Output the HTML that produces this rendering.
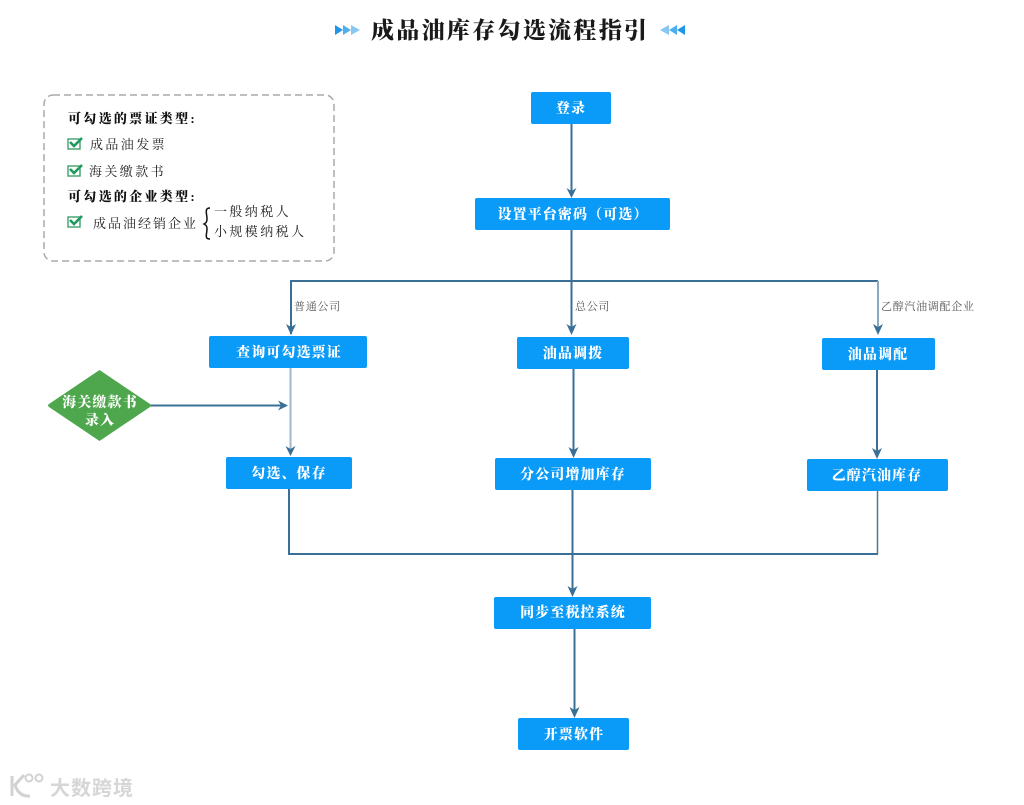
<!DOCTYPE html>
<html><head><meta charset="utf-8"><style>
html,body{margin:0;padding:0;background:#fff;width:1024px;height:805px;overflow:hidden}
svg{display:block}
text{font-family:"Liberation Serif","Noto Serif CJK SC",serif}
.b{fill:#0a9af7}
.w{fill:#fff;font-size:14px;font-weight:900;letter-spacing:1.1px;text-anchor:middle}
.l{stroke:#3b7096;stroke-width:2;fill:none}
.a{fill:#3b7096}
.k{fill:#222;font-size:13px;letter-spacing:2.4px}
.kb{fill:#111;font-size:13px;font-weight:900;letter-spacing:2.3px}
.s{fill:#555;font-size:11px;letter-spacing:.7px}
.c{fill:none;stroke:#3fa06c;stroke-width:1.4}
.t{fill:none;stroke:#1f9a5e;stroke-width:2.6}
</style></head><body>
<svg width="1024" height="805" viewBox="0 0 1024 805" xmlns="http://www.w3.org/2000/svg">
<polygon fill="#1e96ea" points="335,25 343,30 335,35"/><polygon points="343,25 351,30 343,35" fill="#4eaeee"/><polygon points="351,25 360,30 351,35" fill="#86c8f3"/>
<polygon fill="#1e96ea" points="685,25 677,30 685,35"/><polygon points="677,25 669,30 677,35" fill="#4eaeee"/><polygon points="669,25 660,30 669,35" fill="#86c8f3"/>
<text x="371" y="38" style="font-size:23px;font-weight:900;letter-spacing:2.3px;fill:#1a1a1a">成品油库存勾选流程指引</text>

<rect x="44" y="95" width="290" height="166" rx="9" fill="none" stroke="#aaa" stroke-width="1.5" stroke-dasharray="7 4"/>
<text class="kb" x="68" y="123">可勾选的票证类型:</text>
<rect class="c" x="68" y="139" width="12" height="10"/><path class="t" d="M70,142l4,4 8,-8"/>
<text class="k" x="90" y="149">成品油发票</text>
<rect class="c" x="68" y="166" width="12" height="10"/><path class="t" d="M70,169l4,4 8,-8"/>
<text class="k" x="89" y="176">海关缴款书</text>
<text class="kb" x="68" y="201">可勾选的企业类型:</text>
<rect class="c" x="68" y="217" width="12" height="10"/><path class="t" d="M70,220l4,4 8,-8"/>
<text class="k" x="93" y="228" style="letter-spacing:2px">成品油经销企业</text>
<path d="M210,208c-6,0 -3,6 -3,11c0,3 -1,4 -3,5c2,1 3,2 3,5c0,5 -3,10 3,10" fill="none" stroke="#111" stroke-width="1.5"/>
<text class="k" x="214" y="216">一般纳税人</text>
<text class="k" x="214" y="236">小规模纳税人</text>

<path class="l" d="M571.5,124V192"/><polygon class="a" points="566.500,188 571.500,191 576.500,188 571.500,198"/>
<path class="l" d="M571.5,230V331"/>
<path class="l" d="M291,334V281H878"/>
<path d="M878,281V328" stroke="#8aa8bf" stroke-width="2" fill="none"/>
<polygon class="a" points="286,324 291,327 296,324 291,335"/>
<polygon class="a" points="566.500,324 571.500,327 576.500,324 571.500,335"/>
<polygon class="a" points="873,324 878,327 883,324 878,335"/>
<text class="s" x="294" y="310">普通公司</text>
<text class="s" x="575" y="310">总公司</text>
<text class="s" x="881" y="310">乙醇汽油调配企业</text>

<path d="M290.500,368V451" stroke="#a3b9cb" stroke-width="2" fill="none"/>
<polygon class="a" points="285.500,446 290.500,449 295.500,446 290.500,456"/>
<path class="l" d="M150,405.500H284"/><polygon class="a" points="278,400.500 288,405.500 278,410.500 281,405.500"/>
<path class="l" d="M573.500,369V452"/><polygon class="a" points="568.500,447 573.500,450 578.500,447 573.500,458"/>
<path class="l" d="M877,370V453"/><polygon class="a" points="872,448 877,451 882,448 877,459"/>
<path class="l" d="M289,489V554H878"/>
<path d="M877.500,491V554" stroke="#4f7892" stroke-width="1.500" fill="none"/>
<path class="l" d="M572.500,490V592"/><polygon class="a" points="567.500,586 572.500,589 577.500,586 572.500,597"/>
<path class="l" d="M574.500,629V712"/><polygon class="a" points="569.500,707 574.500,710 579.500,707 574.500,718"/>

<rect class="b" x="531" y="92" width="80" height="32" rx="2"/><text class="w" x="571" y="113">登录</text>
<rect class="b" x="475" y="198" width="195" height="32" rx="2"/><text class="w" x="573" y="219">设置平台密码（可选）</text>
<rect class="b" x="209" y="336" width="158" height="32" rx="2"/><text class="w" x="289" y="357">查询可勾选票证</text>
<rect class="b" x="517" y="337" width="112" height="32" rx="2"/><text class="w" x="573" y="358">油品调拨</text>
<rect class="b" x="822" y="338" width="113" height="32" rx="2"/><text class="w" x="878" y="359">油品调配</text>
<rect class="b" x="226" y="457" width="126" height="32" rx="2"/><text class="w" x="289" y="478">勾选、保存</text>
<rect class="b" x="495" y="458" width="156" height="32" rx="2"/><text class="w" x="573" y="479">分公司增加库存</text>
<rect class="b" x="807" y="459" width="141" height="32" rx="2"/><text class="w" x="877" y="480">乙醇汽油库存</text>
<rect class="b" x="494" y="597" width="157" height="32" rx="2"/><text class="w" x="573" y="617">同步至税控系统</text>
<rect class="b" x="518" y="718" width="111" height="32" rx="2"/><text class="w" x="574" y="739">开票软件</text>

<path d="M99.500,370L150,404Q152,405.500 150,407L99.500,441L49,407Q47,405.500 49,404Z" fill="#4ea74c"/>
<text class="w" x="100" y="407">海关缴款书</text>
<text class="w" x="100" y="425">录入</text>

<g fill="none" stroke="#d2d2d2" stroke-width="3">
<path d="M12,776V796M24,775L15,785Q19,797 30,796"/>
</g>
<g fill="none" stroke="#d2d2d2" stroke-width="2">
<circle cx="29" cy="778" r="3.500"/><circle cx="39" cy="778" r="3.500"/>
</g>
<text x="50" y="795" style="font-family:'Liberation Sans','Noto Sans CJK SC',sans-serif;font-size:20px;font-weight:700;letter-spacing:1px;fill:#d6d6d6">大数跨境</text>
</svg>
</body></html>
